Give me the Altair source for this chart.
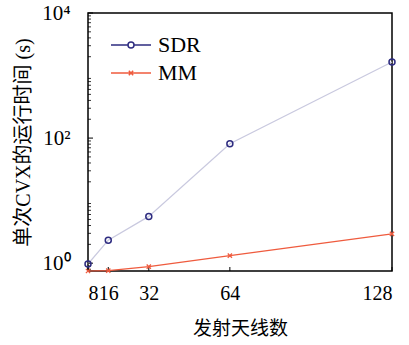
import altair as alt
import pandas as pd

antennas = [8, 16, 32, 64, 128]
sdr_time = [0.97, 2.33, 5.6, 81, 1650]
mm_time = [0.75, 0.76, 0.88, 1.32, 2.94]
series_names = ["SDR", "MM"]
x_ticks = [8, 16, 32, 64, 128]
y_ticks = [1, 100, 10000]
y_tick_text = ["10⁰", "10²", "10⁴"]
y_minor = [0.8, 0.9, 2, 3, 4, 5, 6, 7, 8, 9, 20, 30, 40, 50, 60, 70, 80, 90,
           200, 300, 400, 500, 600, 700, 800, 900, 2000, 3000, 4000, 5000,
           6000, 7000, 8000, 9000]

NAVY = "#2e2c80"
LAV = "#c9c9df"
RED = "#ef5b3e"
SERIF = "Liberation Serif"
TITLE_FONT = "Liberation Serif, Noto Sans CJK SC"
CJK = "Noto Sans CJK SC"

rows = []
for a, s in zip(antennas, sdr_time):
    rows.append({"N": a, "t": s, "series": "SDR", "lc": LAV})
for a, m in zip(antennas, mm_time):
    rows.append({"N": a, "t": m, "series": "MM", "lc": RED})
df = pd.DataFrame(rows)

W, H = 304, 258
xs = alt.Scale(domain=[8, 128], nice=False, zero=False)
ys = alt.Scale(type="log", domain=[0.75, 10000], nice=False)

label_expr = ("datum.value == 1 ? '" + y_tick_text[0] + "' : datum.value == 100 ? '"
              + y_tick_text[1] + "' : '" + y_tick_text[2] + "'")

x_enc = alt.X("N:Q", scale=xs, axis=alt.Axis(
    values=x_ticks, title="发射天线数", labelFont=SERIF, labelFontSize=20,
    labelColor="black", tickSize=0, domain=False, grid=False, labelPadding=12,
    labelOverlap=False,
    titleFont=CJK, titleFontSize=19, titleFontWeight="normal", titleColor="black",
    titlePadding=16))
y_enc = alt.Y("t:Q", scale=ys, axis=alt.Axis(
    values=y_ticks, labelExpr=label_expr, title="单次CVX的运行时间 (s)",
    labelFont=SERIF, labelFontSize=21, labelColor="black", tickSize=0,
    domain=False, grid=False, labelPadding=18,
    titleFont=TITLE_FONT, titleFontSize=20, titleFontWeight="normal",
    titleColor="black", titlePadding=8))

base = alt.Chart(df)

lines = base.mark_line(strokeWidth=1.2).encode(
    x=x_enc, y=y_enc, detail="series:N",
    color=alt.Color("lc:N", scale=None))

sdr_pts = base.transform_filter(alt.datum.series == "SDR").mark_point(
    shape="circle", filled=False, size=36, strokeWidth=1.5, color=NAVY, opacity=1
).encode(x="N:Q", y="t:Q")

mm_pts = base.transform_filter(alt.datum.series == "MM").mark_point(
    shape="M-1,-1L1,1M-1,1L1,-1", filled=False, size=18, strokeWidth=1.3,
    color=RED, opacity=1
).encode(x="N:Q", y="t:Q")

sdr_path = ("M-2,0L-0.3,0M0.3,0L2,0"
            "M-0.3,0A0.3,0.3 0 1,0 0.3,0A0.3,0.3 0 1,0 -0.3,0")
mm_path = "M-2,0L2,0M-0.22,-0.22L0.22,0.22M-0.22,0.22L0.22,-0.22"

leg = alt.Legend(title=None, orient="none", legendX=32, legendY=21,
                 symbolSize=400, symbolStrokeWidth=1.5, symbolOpacity=1,
                 symbolFillColor="transparent",
                 labelFont=SERIF, labelFontSize=22, labelColor="black",
                 labelOffset=16, rowPadding=6, padding=0)

legend_layer = base.mark_point(opacity=0, filled=False, size=400).encode(
    x="N:Q", y="t:Q",
    color=alt.Color("series:N", sort=series_names,
                    scale=alt.Scale(domain=series_names, range=[NAVY, RED]),
                    legend=leg),
    shape=alt.Shape("series:N", sort=series_names,
                    scale=alt.Scale(domain=series_names, range=[sdr_path, mm_path]),
                    legend=leg))

ymaj = alt.Chart(pd.DataFrame({"v": y_ticks})).mark_rule(
    color="black", strokeWidth=1).encode(
    y=alt.Y("v:Q", scale=ys), x=alt.value(0), x2=alt.value(5))
ymin = alt.Chart(pd.DataFrame({"v": y_minor})).mark_rule(
    color="black", strokeWidth=0.8).encode(
    y=alt.Y("v:Q", scale=ys), x=alt.value(0), x2=alt.value(3))
xmaj = alt.Chart(pd.DataFrame({"v": x_ticks})).mark_rule(
    color="black", strokeWidth=1).encode(
    x=alt.X("v:Q", scale=xs), y=alt.value(H), y2=alt.value(H - 4))

chart = alt.layer(lines, ymaj, ymin, xmaj, sdr_pts, mm_pts, legend_layer).properties(
    width=W, height=H,
    autosize=alt.AutoSizeParams(type="none"),
    padding={"left": 88, "top": 13, "right": 17, "bottom": 74},
    background="white",
).configure_view(stroke="black", strokeWidth=1.5)

chart.save("out.html", embed_options={"renderer": "svg", "actions": False})
